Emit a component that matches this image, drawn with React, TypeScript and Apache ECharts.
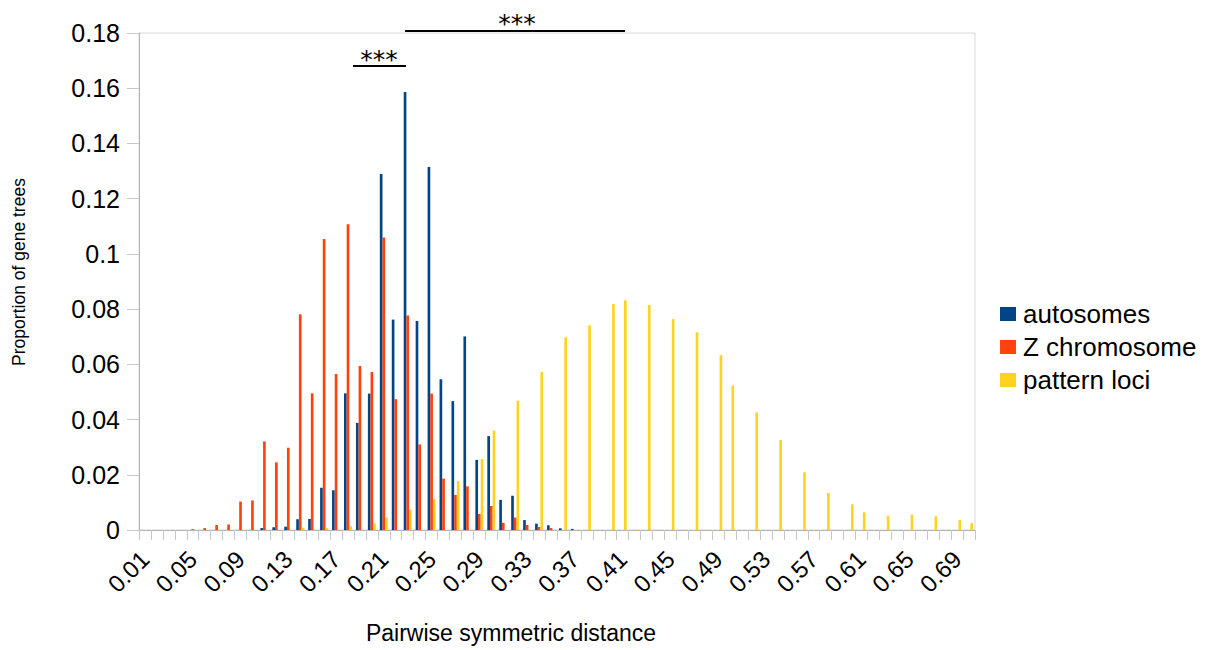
import React, { useEffect, useRef } from "react";
import * as echarts from "echarts";

const categories = [
  "0.01","0.02","0.03","0.04","0.05","0.06","0.07","0.08","0.09","0.10",
  "0.11","0.12","0.13","0.14","0.15","0.16","0.17","0.18","0.19","0.20",
  "0.21","0.22","0.23","0.24","0.25","0.26","0.27","0.28","0.29","0.30",
  "0.31","0.32","0.33","0.34","0.35","0.36","0.37","0.38","0.39","0.40",
  "0.41","0.42","0.43","0.44","0.45","0.46","0.47","0.48","0.49","0.50",
  "0.51","0.52","0.53","0.54","0.55","0.56","0.57","0.58","0.59","0.60",
  "0.61","0.62","0.63","0.64","0.65","0.66","0.67","0.68","0.69","0.70",
];

const autosomes = [
  0, 0, 0, 0, 0, 0, 0, 0, 0, 0,
  0.0007, 0.001, 0.0012, 0.0039, 0.004, 0.0153, 0.0144, 0.0495, 0.0388, 0.0494,
  0.1289, 0.0762, 0.1586, 0.0757, 0.1315, 0.0546, 0.0467, 0.0701, 0.0254, 0.034,
  0.0109, 0.0124, 0.0036, 0.0023, 0.0017, 0.0006, 0.0004, 0, 0, 0,
  0, 0, 0, 0, 0, 0, 0, 0, 0, 0,
  0, 0, 0, 0, 0, 0, 0, 0, 0, 0,
  0, 0, 0, 0, 0, 0, 0, 0, 0, 0,
];

const zChromosome = [
  0, 0, 0, 0, 0.0003, 0.0007, 0.0018, 0.002, 0.0103, 0.0107,
  0.0321, 0.0245, 0.0298, 0.0781, 0.0495, 0.1054, 0.0565, 0.1107, 0.0594, 0.0572,
  0.1059, 0.0474, 0.0777, 0.031, 0.0494, 0.0186, 0.0127, 0.0158, 0.0058, 0.0087,
  0.0026, 0.0045, 0.0018, 0.0011, 0.0007, 0, 0, 0, 0, 0,
  0, 0, 0, 0, 0, 0, 0, 0, 0, 0,
  0, 0, 0, 0, 0, 0, 0, 0, 0, 0,
  0, 0, 0, 0, 0, 0, 0, 0, 0, 0,
];

const patternLoci = [
  0, 0, 0, 0, 0, 0, 0, 0, 0, 0,
  0, 0, 0, 0.0008, 0, 0.0007, 0, 0.0014, 0, 0.0024,
  0.0045, 0, 0.0074, 0, 0.0112, 0, 0.0177, 0, 0.0257, 0.036,
  0, 0.0468, 0, 0.0572, 0, 0.0698, 0, 0.0741, 0, 0.0818,
  0.0832, 0, 0.0815, 0, 0.0764, 0, 0.0716, 0, 0.0633, 0.0523,
  0, 0.0426, 0, 0.0326, 0, 0.0209, 0, 0.0134, 0, 0.0093,
  0.0064, 0, 0.0052, 0, 0.0056, 0, 0.005, 0, 0.0036, 0.0025,
];

const seriesNames = ["autosomes", "Z chromosome", "pattern loci"];
const colors = ["#004586", "#ff420e", "#ffd320"];
const FONT = "'Liberation Sans', Arial, sans-serif";

export default function App() {
  const ref = useRef<HTMLDivElement>(null);
  useEffect(() => {
    if (!ref.current) return;
    const chart = echarts.init(ref.current, null, { renderer: "svg" });
    const values = [autosomes, zChromosome, patternLoci];
    chart.setOption({
      animation: false,
      backgroundColor: "#ffffff",
      textStyle: { fontFamily: FONT },
      grid: {
        left: 139,
        right: 251,
        top: 33,
        bottom: 120,
        show: true,
        borderColor: "#d9d9d9",
        borderWidth: 1,
      },
      legend: {
        orient: "vertical",
        left: 1000,
        top: 301,
        padding: 0,
        itemWidth: 16,
        itemHeight: 14,
        itemGap: 7,
        icon: "rect",
        data: seriesNames,
        textStyle: { fontSize: 26, color: "#000", fontFamily: FONT, padding: [0, 0, 0, 2] },
      },
      xAxis: {
        type: "category",
        data: categories,
        boundaryGap: true,
        axisLine: { show: true, lineStyle: { color: "#b3b3b3", width: 1 } },
        axisTick: { show: true, interval: 0, length: 10, lineStyle: { color: "#c8c8c8" } },
        axisLabel: {
          interval: 3,
          rotate: 45,
          margin: 25,
          fontSize: 24,
          color: "#000",
          fontFamily: FONT,
        },
        splitLine: { show: false },
      },
      yAxis: {
        type: "value",
        min: 0,
        max: 0.18,
        interval: 0.02,
        axisLine: { show: true, lineStyle: { color: "#b3b3b3", width: 1 } },
        axisTick: { show: true, length: 12, lineStyle: { color: "#c8c8c8" } },
        axisLabel: {
          margin: 19,
          fontSize: 25,
          color: "#000",
          fontFamily: FONT,
          formatter: (v: number) => String(+v.toFixed(2)),
        },
        splitLine: { show: false },
      },
      series: seriesNames.map((name, i) => ({
        name,
        type: "bar",
        data: values[i],
        barGap: "0%",
        barCategoryGap: "33%",
        itemStyle: { color: colors[i] },
      })),
      graphic: [
        {
          type: "text",
          x: 19,
          y: 272,
          rotation: Math.PI / 2,
          style: {
            text: "Proportion of gene trees",
            fontSize: 17.5,
            fontFamily: FONT,
            fill: "#000",
            align: "center",
            verticalAlign: "middle",
          },
        },
        {
          type: "text",
          x: 511,
          y: 633,
          style: {
            text: "Pairwise symmetric distance",
            fontSize: 23,
            fontFamily: FONT,
            fill: "#000",
            align: "center",
            verticalAlign: "middle",
          },
        },
        {
          type: "line",
          shape: { x1: 353, y1: 66, x2: 406, y2: 66 },
          style: { stroke: "#000", lineWidth: 2 },
        },
        {
          type: "text",
          x: 379,
          y: 59,
          style: {
            text: "***",
            fontSize: 25,
            fontFamily: "'DejaVu Sans', sans-serif",
            fill: "#000",
            align: "center",
            verticalAlign: "middle",
          },
        },
        {
          type: "line",
          shape: { x1: 405, y1: 31, x2: 625, y2: 31 },
          style: { stroke: "#000", lineWidth: 2 },
        },
        {
          type: "text",
          x: 517,
          y: 23,
          style: {
            text: "***",
            fontSize: 25,
            fontFamily: "'DejaVu Sans', sans-serif",
            fill: "#000",
            align: "center",
            verticalAlign: "middle",
          },
        },
      ],
    });
    return () => chart.dispose();
  }, []);
  return (
    <div
      ref={ref}
      style={{ position: "fixed", left: 0, top: 0, width: 1226, height: 650 }}
    />
  );
}
